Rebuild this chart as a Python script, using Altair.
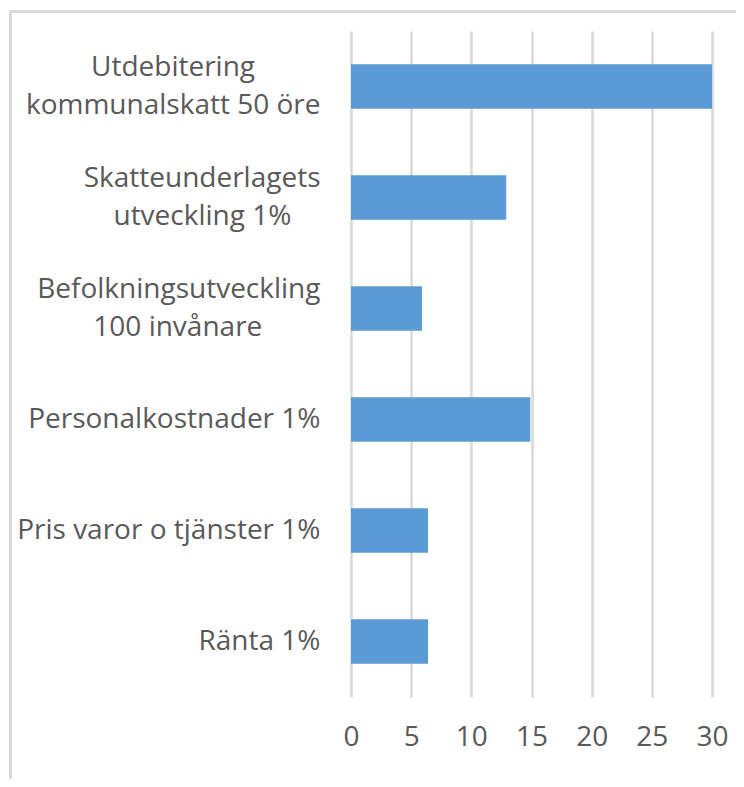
import altair as alt
import pandas as pd

NB = "\u00a0"
ZW = "\u200b"

line1 = ["Utdebitering", "Skatteunderlagets", "Befolkningsutveckling",
         "Personalkostnader 1%", "Pris varor o tjänster 1%", "Ränta 1%"]
line2 = ["kommunalskatt 50 öre", "utveckling 1%", "100 invånare", "", "", ""]
pad1 = [9, 0, 0, 0, 0, 0]
pad2 = [0, 4, 8, 0, 0, 0]
values = [30, 12.9, 5.9, 14.9, 6.4, 6.4]
x_ticks = [0, 5, 10, 15, 20, 25, 30]

labels = []
for a, b, p1, p2 in zip(line1, line2, pad1, pad2):
    s = a + (NB * p1 + ZW if p1 else "")
    if b:
        s = s + "|" + b + (NB * p2 + ZW if p2 else "")
    labels.append(s)

df = pd.DataFrame({"label": labels, "value": values})

FONT = "Open Sans"
FS = 28
LH = 38

bars = alt.Chart(df).mark_bar(color="#5B9BD5").encode(
    y=alt.Y("label:N", sort=None,
            scale=alt.Scale(paddingInner=0.6, paddingOuter=0.3),
            axis=alt.Axis(title=None, domain=False, ticks=False,
                          labelExpr="split(datum.label, '|')",
                          labelFont=FONT, labelFontSize=FS,
                          labelColor="#595959", labelPadding=31,
                          labelLineHeight=LH, labelLimit=400,
                          labelOffset={"condition": {"test": "indexof(datum.value, '|') >= 0",
                                                     "value": -LH / 2},
                                       "value": 0})),
    x=alt.X("value:Q",
            scale=alt.Scale(domain=[0, 30], nice=False),
            axis=alt.Axis(title=None, values=x_ticks, domain=False, ticks=False,
                          grid=True, gridColor="#D9D9D9", gridWidth=2.5,
                          labelFlush=False, labelOverlap=False,
                          labelFont=FONT, labelFontSize=FS,
                          labelColor="#595959", labelPadding=26)),
)

frame = pd.DataFrame({"k": [0]})
left_border = alt.Chart(frame).mark_rule(color="#D9D9D9", strokeWidth=3).encode(
    x=alt.value(-340.5), y=alt.value(-19.5), y2=alt.value(760))
top_border = alt.Chart(frame).mark_rule(color="#D9D9D9", strokeWidth=3).encode(
    y=alt.value(-19.5), x=alt.value(-342), x2=alt.value(400))

chart = alt.layer(bars, left_border, top_border).properties(
    width=361, height=666,
    autosize=alt.AutoSizeParams(type="none"),
    padding={"left": 343, "top": 23, "right": 24, "bottom": 82},
).configure_view(stroke=None).configure_axis(gridCap="butt")

chart.save("out.html", embed_options={"renderer": "svg", "actions": False})
